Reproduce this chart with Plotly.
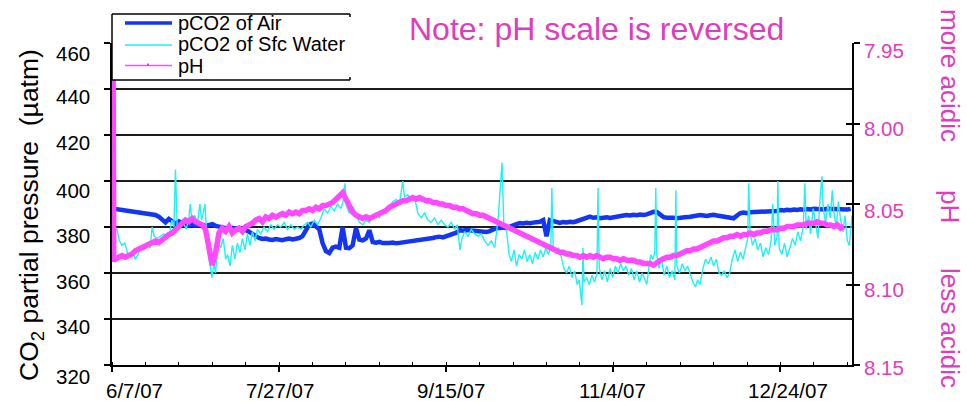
import pandas as pd
import plotly.graph_objects as go

# ---------------- data ----------------
start_date = "2007-06-07"

# pCO2 of air, one value per day from 6/7/07
air_pco2 = [
    388.0, 387.8, 387.6, 387.5, 387.3, 387.1, 386.9, 386.7, 386.5, 386.3, 386.1, 385.9, 385.6,
    385.2, 384.5, 383.0, 382.0, 383.5, 382.5, 381.5,
    382.5, 381.5, 381.0, 380.8, 381.2, 380.6, 380.8, 381.0, 380.5, 380.7, 381.2, 380.5, 380.0,
    379.8, 379.5, 379.3, 379.6, 379.2, 379.0, 379.4, 378.8, 378.0, 377.0, 375.8,
    375.2, 374.8, 375.0, 374.6, 374.4, 374.8, 374.5, 374.3, 374.7, 375.0, 374.6, 374.8, 375.2, 376.0, 378.5,
    381.0, 381.5, 380.5, 379.0,
    373.0, 369.5, 368.7, 371.0, 371.5, 371.0,
    380.0,
    371.0, 370.8, 372.0,
    379.5,
    374.5, 374.2, 375.0,
    378.6,
    373.5, 373.2, 373.5,
    373.0, 372.8, 373.0, 373.2, 372.9, 373.1, 373.3, 373.5, 373.8,
    374.0, 374.2, 374.0, 374.3, 374.5, 374.8, 375.2,
    375.6, 375.8, 375.5, 375.9, 376.2, 376.8, 377.5,
    378.6, 378.4, 378.7, 378.5, 378.2, 378.0, 377.8, 377.6, 377.8, 378.2, 379.0, 379.6,
    379.6, 379.8, 379.5, 380.2, 381.0,
    381.3, 381.7, 381.5, 381.8, 381.6, 381.9, 382.0, 382.3,
    383.0, 376.0, 383.0, 382.5,
    382.0, 381.8, 382.2, 382.0, 382.3, 382.1, 382.5, 383.0, 383.5,
    384.3, 384.5, 384.0, 384.2, 383.8, 384.0, 384.2, 383.9, 384.3, 384.5, 384.8, 385.0,
    385.2, 385.0, 385.3, 385.1, 385.4, 385.2, 385.5, 386.2, 386.6, 386.5, 385.5,
    384.3, 384.0, 384.2, 384.0, 383.8, 384.1, 384.0, 384.3, 384.5, 384.8, 385.0, 385.2, 385.0, 384.8,
    385.1, 385.3, 385.0, 384.8, 384.5, 384.2,
    384.0, 383.8, 385.0,
    386.0, 386.3, 386.0, 386.4, 386.5, 386.3, 386.6, 386.5, 386.8, 386.6, 386.9, 387.0,
    387.4, 387.2, 387.5, 387.3, 387.6, 387.4, 387.7, 387.5, 387.8, 387.6, 387.9, 387.7, 387.8, 387.6,
    387.9, 387.8, 388.0, 387.7, 387.9, 387.8, 387.6, 387.9,
]

# pCO2 of surface water: day offsets from 6/7/07 and values
water_day = [
    0, 0.5, 1.5, 2.2, 3, 3.8, 4.8, 5.5, 6.3, 7, 7.8, 8.5, 9.5, 10.5, 11.4, 12.0, 12.6, 13.5, 14.5, 15.5,
    16.5, 17.3, 17.9, 18.5, 19.0, 19.5, 20.3, 21.3, 22.2, 23.0, 23.4, 23.9, 24.8, 25.5, 26.3, 26.8, 27.3,
    27.8, 28.2, 28.8, 29.5, 29.9, 30.5, 31.0, 31.7, 32.5, 33.3, 34.0, 34.6, 35.3, 36.0, 36.8, 37.5, 38.3,
    39.0, 39.8, 40.5, 41.3, 42.0, 42.8, 43.5, 44.5, 45.5, 46.5, 47.5, 48.5, 49.5, 50.5, 51.5, 52.5, 53.5,
    54.5, 55.5, 56.5, 57.5, 58.5, 59.5, 60.5, 61.5, 62.5, 63.5, 64.5, 65.5, 66.5, 67.5, 68.5, 69.3, 69.7,
    70.2, 71.0, 72.0, 73.0, 74.0, 75.0, 76.0, 77.0, 78.0, 79.0, 80.0, 81.0, 82.0, 83.0, 84.0, 85.0, 86.0,
    87.0, 87.5, 88.5, 89.5, 90.5, 91.5, 92.5, 93.5, 94.5, 95.5, 96.5, 97.5, 98.5, 99.5, 100.5, 101.5,
    102.5, 103.3, 104.1, 104.7, 105.5, 106.5, 107.5, 108.5, 109.5, 110.5, 111.5, 112.5, 113.5, 114.5,
    115.5, 116.7, 117.2, 118.0, 118.8, 119.5, 120.3, 121.0, 121.8, 122.6, 123.4, 124.2, 125.0, 125.8,
    126.6, 127.4, 128.2, 129.0, 129.8, 130.6, 131.3, 131.6, 132.0, 132.8, 133.6, 134.4, 135.2, 136.0,
    136.8, 137.6, 138.4, 139.2, 139.8, 140.3, 140.6, 140.9, 141.2, 142.0, 142.8, 143.6, 144.4, 145.1,
    145.4, 145.8, 146.6, 147.4, 148.2, 149.0, 149.8, 150.6, 151.4, 152.2, 153.0, 153.8, 154.6, 155.4,
    156.2, 157.0, 157.8, 158.6, 159.4, 160.0, 160.6, 161.2, 161.8, 162.4, 162.7, 163.0, 163.6, 164.4,
    165.2, 166.0, 166.8, 167.6, 168.4, 168.7, 169.0, 169.8, 170.6, 171.4, 172.2, 173.0, 173.8, 174.6,
    175.2, 175.9, 176.8, 177.6, 178.4, 179.2, 180.0, 180.8, 181.6, 182.4, 183.2, 184.0, 184.8, 185.6,
    186.4, 187.2, 188.0, 188.8, 189.6, 190.2, 190.5, 190.9, 191.6, 192.4, 193.2, 194.0, 194.8, 195.6,
    196.4, 197.2, 197.7, 198.3, 199.0, 199.2, 199.6, 200.4, 201.2, 202.0, 202.8, 203.6, 204.4, 205.2,
    206.0, 206.8, 207.3, 207.7, 208.4, 209.0, 209.8, 210.5, 211.2, 211.8, 212.4, 212.8, 213.5, 214.2,
    214.9, 215.5, 216.0, 216.7, 217.3, 218.0, 218.7, 219.3, 220.0, 220.6, 221.0, 221.4,
]
water_pco2 = [
    373, 378, 379, 374, 372, 373, 368, 367, 369, 366, 368, 371, 370, 372, 371, 380, 376, 375, 376, 377,
    375, 378, 383, 380, 405, 381, 380, 382, 379, 384, 390, 383, 385, 381, 390, 383, 386,
    390, 380, 368, 362, 358, 364, 360, 373, 371, 375, 366, 368, 363, 372, 366, 373, 369,
    375, 370, 377, 372, 378, 374, 379, 377, 380, 378, 381, 379, 381, 380, 382, 379, 381,
    379, 380, 379, 381, 382, 380, 383, 381, 384, 388, 386, 389, 387, 390, 388, 392, 399,
    389, 386, 389, 386, 382, 381, 383, 382, 385, 386, 384, 387, 386, 389, 391, 392, 390,
    400, 393, 394, 392, 393, 386, 384, 386, 383, 382, 384, 381, 383, 381, 380, 382,
    379, 381, 370, 375, 378, 376, 379, 377, 376, 377, 374, 372, 374, 371,
    383, 408, 382, 379, 368, 365, 370, 363, 368, 366, 370, 365, 368, 364,
    369, 366, 370, 367, 371, 368, 372, 397, 371, 369, 371, 367, 362, 360,
    363, 358, 361, 355, 357, 350, 346, 371, 356, 358, 355, 359, 356, 360,
    397, 362, 357, 361, 356, 362, 358, 363, 360, 364, 361, 363, 359, 362,
    357, 361, 356, 360, 357, 355, 362, 368, 366, 369, 397, 368, 362, 366,
    359, 363, 358, 361, 357, 396, 363, 360, 364, 361, 363, 359, 356, 354,
    357, 355, 362, 366, 364, 367, 363, 366, 360, 359, 361, 358, 360, 366,
    370, 365, 369, 366, 372, 375, 399, 378, 372, 375, 370, 373, 367, 371,
    368, 374, 390, 372, 376, 400, 371, 368, 373, 367, 371, 375, 372, 378,
    374, 380, 399, 379, 385, 377, 388, 381, 375, 392, 402, 388, 382, 390,
    384, 396, 386, 380, 391, 383, 378, 385, 374, 372, 380, 385,
]

# pH: initial spike, then one value per day from day 1
ph_start_day = [0, 0.25, 0.5]
ph_start_val = [8.086, 7.90, 8.085]
ph_daily = [
    8.084, 8.083, 8.082, 8.083, 8.082, 8.081, 8.079, 8.078, 8.077, 8.076, 8.075,
    8.074, 8.073, 8.074, 8.072, 8.071, 8.069, 8.068, 8.066, 8.064,
    8.062, 8.060, 8.061, 8.059, 8.061, 8.062, 8.063, 8.066, 8.078, 8.088, 8.080,
    8.068, 8.065, 8.067, 8.064, 8.068, 8.066, 8.065, 8.067, 8.064, 8.063, 8.062,
    8.060, 8.059, 8.061, 8.058, 8.059, 8.057, 8.058, 8.057,
    8.056, 8.057, 8.055, 8.056, 8.055, 8.056, 8.054, 8.054,
    8.053, 8.054, 8.052, 8.053, 8.051, 8.051, 8.050, 8.049, 8.047, 8.045,
    8.043, 8.047, 8.052, 8.055, 8.057,
    8.058, 8.059, 8.058, 8.059, 8.058, 8.057, 8.056, 8.055, 8.054, 8.052,
    8.051, 8.050, 8.049, 8.048, 8.048, 8.047, 8.046, 8.047, 8.046, 8.047, 8.048, 8.048,
    8.049, 8.049, 8.050, 8.050, 8.051, 8.051, 8.052, 8.052, 8.053, 8.053, 8.054, 8.055,
    8.056, 8.056, 8.057, 8.057, 8.058, 8.059, 8.060, 8.061, 8.062, 8.063, 8.064,
    8.065, 8.066, 8.067, 8.068, 8.069, 8.070, 8.071, 8.072, 8.073, 8.074, 8.075, 8.076, 8.077,
    8.078, 8.079, 8.080, 8.080, 8.081, 8.081, 8.082,
    8.082, 8.083, 8.082, 8.083, 8.082, 8.083, 8.082, 8.083, 8.084, 8.083, 8.083, 8.084,
    8.084, 8.085, 8.084, 8.085, 8.085, 8.085,
    8.086, 8.086, 8.087, 8.087, 8.087, 8.088, 8.086, 8.085,
    8.084, 8.083, 8.083, 8.082, 8.082, 8.081,
    8.080, 8.079, 8.079, 8.078, 8.078, 8.077, 8.076, 8.075, 8.074,
    8.073, 8.073, 8.072, 8.071, 8.071, 8.070, 8.070, 8.069,
    8.070, 8.069, 8.069, 8.068, 8.069, 8.068, 8.068, 8.067, 8.067, 8.066,
    8.066, 8.066, 8.065, 8.065, 8.064, 8.064, 8.064, 8.063, 8.063,
    8.063, 8.062, 8.062, 8.062, 8.061, 8.062, 8.062, 8.063,
    8.063, 8.064, 8.063, 8.065, 8.064,
]

x_tick_dates = ["2007-06-07", "2007-07-27", "2007-09-15", "2007-11-04", "2007-12-24"]
x_tick_labels = ["6/7/07", "7/27/07", "9/15/07", "11/4/07", "12/24/07"]
left_ticks = [320, 340, 360, 380, 400, 420, 440, 460]
left_tick_labels = ["320", "340", "360", "380", "400", "420", "440", "460"]
right_ticks = [7.95, 8.00, 8.05, 8.10, 8.15]
right_tick_labels = ["7.95", "8.00", "8.05", "8.10", "8.15"]

# ---------------- styling ----------------
FONT = "Liberation Sans, Arial, sans-serif"
BLUE = "#1236F2"
CYAN = "#1FF2F2"
PINK = "#FF48FF"
MAG_TXT = "#E03CBE"

t0 = pd.Timestamp(start_date)
air_x = t0 + pd.to_timedelta(list(range(len(air_pco2))), unit="D")
water_x = t0 + pd.to_timedelta(water_day, unit="D")
ph_days = ph_start_day + list(range(1, len(ph_daily) + 1))
ph_x = t0 + pd.to_timedelta(ph_days, unit="D")
ph_y = ph_start_val + ph_daily

fig = go.Figure()
fig.add_trace(go.Scatter(x=air_x, y=air_pco2, mode="lines", name="pCO2 of Air",
                         line=dict(color=BLUE, width=4.5), yaxis="y", hoverinfo="skip"))
fig.add_trace(go.Scatter(x=water_x, y=water_pco2, mode="lines", name="pCO2 of Sfc Water",
                         line=dict(color=CYAN, width=1.4), yaxis="y", hoverinfo="skip"))
fig.add_trace(go.Scatter(x=ph_x, y=ph_y, mode="lines", name="pH",
                         line=dict(color=PINK, width=5.5), yaxis="y2", hoverinfo="skip"))
# helper trace so the inner tick marks of the right axis are drawn
fig.add_trace(go.Scatter(x=[t0], y=[8.0], mode="markers", marker=dict(opacity=0),
                         yaxis="y3", hoverinfo="skip", showlegend=False))

x_end = t0 + pd.Timedelta(days=221.4)

fig.update_layout(
    width=967, height=401, autosize=False,
    margin=dict(l=112, r=115, t=43, b=36),
    paper_bgcolor="white", plot_bgcolor="white",
    showlegend=False,
    font=dict(family=FONT, color="black"),
    xaxis=dict(
        type="date", range=[t0, x_end],
        tickmode="linear", tick0=start_date, dtick=50 * 86400000,
        ticks="outside", ticklen=5, tickwidth=1.5, tickcolor="black",
        showticklabels=False, showgrid=False, zeroline=False,
        showline=True, linecolor="black", linewidth=1.5, mirror=False,
        minor=dict(ticks="inside", ticklen=3, tickwidth=1.2, tickcolor="black",
                   tick0=start_date, dtick=10 * 86400000, showgrid=False),
    ),
    yaxis=dict(
        range=[320, 460], tickmode="array", tickvals=left_ticks,
        ticks="outside", ticklen=6, tickwidth=1.5, tickcolor="black",
        showline=True, linecolor="black", linewidth=1.5,
        showgrid=True, gridcolor="#1c1c1c", gridwidth=1.5, zeroline=False,
        showticklabels=False,
    ),
    yaxis2=dict(
        overlaying="y", side="right", range=[8.15, 7.95],
        tickmode="array", tickvals=right_ticks,
        ticks="outside", ticklen=6, tickwidth=1.5, tickcolor="black",
        showline=True, linecolor="black", linewidth=1.5,
        showgrid=False, zeroline=False, showticklabels=False,
    ),
    yaxis3=dict(
        overlaying="y", side="right", range=[8.15, 7.95],
        tickmode="array", tickvals=right_ticks,
        ticks="inside", ticklen=6, tickwidth=1.5, tickcolor="black",
        showticklabels=False, showline=False, showgrid=False, zeroline=False,
    ),
)

# ----- custom legend box (pixel positions converted to paper units) -----
PL, PW, PB, PH = 112, 740, 365, 322


def px(xp):
    return (xp - PL) / PW


def py(yp):
    return (PB - yp) / PH


shapes = [
    dict(type="rect", xref="paper", yref="paper", x0=px(112), x1=px(361), y0=py(80), y1=py(14),
         fillcolor="white", line=dict(width=0), layer="above"),
    dict(type="line", xref="paper", yref="paper", x0=px(112), x1=px(350), y0=py(14), y1=py(14),
         line=dict(color="black", width=1.5), layer="above"),
    dict(type="line", xref="paper", yref="paper", x0=px(112), x1=px(112), y0=py(80), y1=py(14),
         line=dict(color="black", width=1.5), layer="above"),
    dict(type="line", xref="paper", yref="paper", x0=px(112), x1=px(350), y0=py(80), y1=py(80),
         line=dict(color="black", width=1.5), layer="above"),
    dict(type="line", xref="paper", yref="paper", x0=px(350), x1=px(350), y0=py(14), y1=py(17),
         line=dict(color="black", width=1.5), layer="above"),
    dict(type="line", xref="paper", yref="paper", x0=px(350), x1=px(350), y0=py(77), y1=py(80),
         line=dict(color="black", width=1.5), layer="above"),
    dict(type="line", xref="paper", yref="paper", x0=px(125), x1=px(172), y0=py(23), y1=py(23),
         line=dict(color=BLUE, width=3.5), layer="above"),
    dict(type="line", xref="paper", yref="paper", x0=px(125), x1=px(172), y0=py(45), y1=py(45),
         line=dict(color=CYAN, width=1.5), layer="above"),
    dict(type="line", xref="paper", yref="paper", x0=px(125), x1=px(172), y0=py(65.5), y1=py(65.5),
         line=dict(color=PINK, width=1.5), layer="above"),
    dict(type="line", xref="paper", yref="paper", x0=px(148), x1=px(148), y0=py(63.5), y1=py(65.5),
         line=dict(color="#C020C0", width=1.5), layer="above"),
]
fig.update_layout(shapes=shapes)

legend_names = ["pCO2 of Air", "pCO2 of Sfc Water", "pH"]
legend_rows = [23, 44, 65.5]
annotations = []
for name, row in zip(legend_names, legend_rows):
    annotations.append(dict(xref="paper", yref="paper", x=px(176), y=py(row), text=name,
                            showarrow=False, xanchor="left", yanchor="middle",
                            font=dict(family=FONT, size=20, color="black")))

# x tick labels
x_label_shift = [22, 1, 5, -1, 8]
for d, lab, sh in zip(x_tick_dates, x_tick_labels, x_label_shift):
    annotations.append(dict(xref="x", yref="paper", x=d, y=0, text=lab, showarrow=False,
                            xanchor="center", yanchor="top", xshift=sh, yshift=-12,
                            font=dict(family=FONT, size=20.5, color="black")))

# left tick labels (sit slightly below their ticks, as in the original)
left_label_drop = [11, 7.5, 8.5, 8, 9, 7.5, 7, 10]
for v, lab, dy in zip(left_ticks, left_tick_labels, left_label_drop):
    annotations.append(dict(xref="paper", yref="y", x=px(92), y=v, text=lab, showarrow=False,
                            xanchor="right", yanchor="middle", yshift=-dy,
                            font=dict(family=FONT, size=20.5, color="black")))

# right tick labels
right_label_drop = [7, 5, 6, 5, 2.5]
for v, lab, dy in zip(right_ticks, right_tick_labels, right_label_drop):
    annotations.append(dict(xref="paper", yref="y2", x=px(862), y=v, text=lab, showarrow=False,
                            xanchor="left", yanchor="middle", yshift=-dy,
                            font=dict(family=FONT, size=20.5, color=MAG_TXT)))

# axis titles and note
annotations += [
    dict(xref="paper", yref="paper", x=px(31), y=py(215),
         text="CO<sub>2</sub> partial pressure\u00a0 (µatm)", textangle=-90, showarrow=False,
         xanchor="center", yanchor="middle", font=dict(family=FONT, size=26.5, color="black")),
    dict(xref="paper", yref="paper", x=px(950), y=py(75), text="more acidic", textangle=90,
         showarrow=False, xanchor="center", yanchor="middle",
         font=dict(family=FONT, size=26, color=MAG_TXT)),
    dict(xref="paper", yref="paper", x=px(950), y=py(206), text="pH", textangle=90,
         showarrow=False, xanchor="center", yanchor="middle",
         font=dict(family=FONT, size=26, color=MAG_TXT)),
    dict(xref="paper", yref="paper", x=px(950), y=py(328), text="less acidic", textangle=90,
         showarrow=False, xanchor="center", yanchor="middle",
         font=dict(family=FONT, size=26, color=MAG_TXT)),
    dict(xref="paper", yref="paper", x=px(596), y=py(29), text="Note: pH scale is reversed",
         showarrow=False, xanchor="center", yanchor="middle",
         font=dict(family=FONT, size=32, color=MAG_TXT)),
]
fig.update_layout(annotations=annotations)

fig.write_html(
    "out.html",
    config={"displayModeBar": False},
    post_script="document.body.style.margin='0px';document.body.style.overflow='hidden';",
)
